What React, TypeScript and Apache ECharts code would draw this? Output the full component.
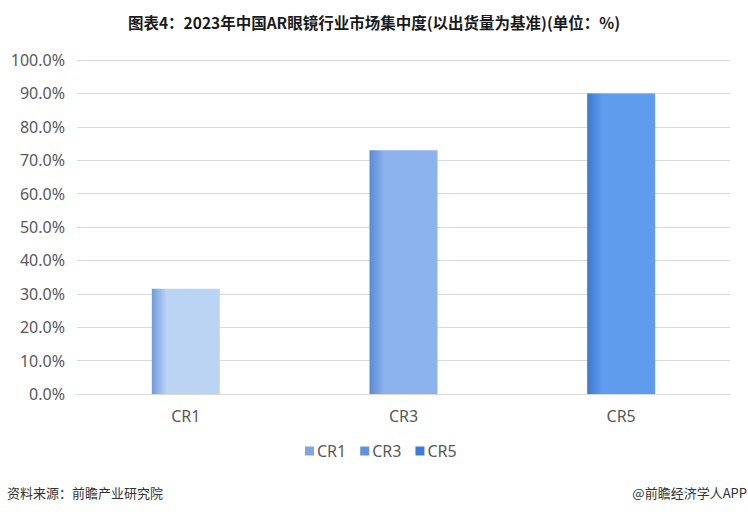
import React, { useEffect, useRef } from "react";
import * as echarts from "echarts";

const categories = ["CR1", "CR3", "CR5"];
const values = [31.5, 73.0, 90.0];
const barLight = ["#bcd4f4", "#8cb3ed", "#5f9ced"];
const barDark = ["#6e9bdc", "#5b89d4", "#3d78d0"];
const legendColors = ["#7fa6e0", "#5f93de", "#3f7bd4"];
const yTicks = [0, 10, 20, 30, 40, 50, 60, 70, 80, 90, 100];

const title = "图表4：2023年中国AR眼镜行业市场集中度(以出货量为基准)(单位：%)";
const source = "资料来源：前瞻产业研究院";
const credit = "@前瞻经济学人APP";

export default function App() {
  const ref = useRef<HTMLDivElement>(null);
  useEffect(() => {
    const chart = echarts.init(ref.current!, null, { renderer: "svg" });
    const series = categories.map((name, i) => ({
      name,
      type: "bar",
      barWidth: 68,
      barGap: "-100%",
      data: categories.map((_, j) => (j === i ? values[i] : null)),
      itemStyle: {
        color: new echarts.graphic.LinearGradient(0, 0, 1, 0, [
          { offset: 0, color: barDark[i] },
          { offset: 0.22, color: barLight[i] },
          { offset: 1, color: barLight[i] },
        ]),
      },
    }));
    chart.setOption({
      animation: false,
      textStyle: { fontFamily: "'Noto Sans', 'Noto Sans CJK SC', sans-serif" },
      title: {
        text: title,
        left: "center",
        top: 9,
        textStyle: {
          fontSize: 15.5,
          fontWeight: "bold",
          color: "#1a1a1a",
          fontFamily: "'Noto Sans CJK SC', sans-serif",
        },
      },
      grid: { left: 77, right: 18, top: 60, bottom: 122, containLabel: false },
      legend: {
        bottom: 52,
        left: 300,
        itemWidth: 9,
        itemHeight: 9,
        itemGap: 14,
        icon: "rect",
        textStyle: { fontSize: 16, color: "#595959", padding: [0, 0, 0, -2] },
        data: categories.map((name, i) => ({
          name,
          itemStyle: { color: legendColors[i] },
        })),
      },
      xAxis: {
        type: "category",
        data: categories,
        axisLine: { lineStyle: { color: "#d9d9d9" } },
        axisTick: { show: false },
        axisLabel: { fontSize: 16, color: "#595959", margin: 14 },
      },
      yAxis: {
        type: "value",
        min: 0,
        max: 100,
        interval: 10,
        axisLine: { show: false },
        axisTick: { show: false },
        splitLine: { lineStyle: { color: "#d9d9d9" } },
        axisLabel: {
          fontSize: 16,
          color: "#595959",
          margin: 12,
          formatter: (v: number) =>
            yTicks.includes(v) ? v.toFixed(1) + "%" : "",
        },
      },
      series,
      graphic: [
        {
          type: "text",
          left: 7,
          top: 486,
          style: {
            text: source,
            fontSize: 13,
            fill: "#333",
            fontFamily: "'Noto Sans CJK SC', sans-serif",
          },
        },
        {
          type: "text",
          right: 1,
          top: 486,
          style: {
            text: credit,
            fontSize: 13,
            fill: "#333",
            fontFamily: "'Noto Sans CJK SC', sans-serif",
          },
        },
      ],
    });
    return () => chart.dispose();
  }, []);
  return <div ref={ref} style={{ width: 748, height: 516, position: "absolute", left: 0, top: 0 }} />;
}
